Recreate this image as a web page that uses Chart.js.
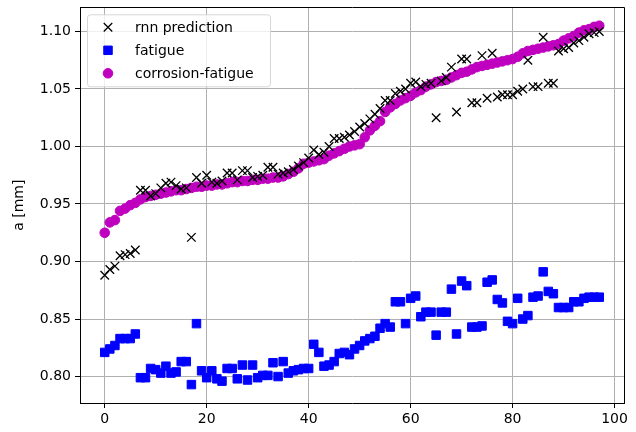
<!DOCTYPE html>
<html>
<head>
<meta charset="utf-8">
<script src="https://cdn.jsdelivr.net/npm/chart.js@4.4.0/dist/chart.umd.min.js"></script>
<style>
  html, body { margin: 0; padding: 0; background: #fff; }
  #wrap { width: 636px; height: 432px; }
</style>
</head>
<body>
<div id="wrap"><canvas id="crackChart" width="636" height="432"></canvas></div>
<script>
// crack length per sample index
const rnnPrediction = [
  0.888, 0.893, 0.896, 0.905, 0.906, 0.907, 0.910, 0.962, 0.962, 0.957,
  0.959, 0.964, 0.968, 0.969, 0.966, 0.963, 0.964, 0.921, 0.973, 0.968,
  0.975, 0.969, 0.968, 0.970, 0.977, 0.977, 0.971, 0.979, 0.979, 0.973,
  0.974, 0.975, 0.982, 0.982, 0.976, 0.977, 0.978, 0.980, 0.983, 0.986,
  0.990, 0.997, 0.993, 0.995, 1.000, 1.007, 1.007, 1.008, 1.010, 1.013,
  1.017, 1.020, 1.024, 1.028, 1.033, 1.040, 1.040, 1.046, 1.048, 1.050,
  1.055, 1.056, 1.052, 1.054, 1.055, 1.025, 1.057, 1.060, 1.069, 1.030,
  1.076, 1.076, 1.038, 1.038, 1.079, 1.042, 1.081, 1.043, 1.045, 1.045,
  1.045, 1.048, 1.050, 1.075, 1.052, 1.052, 1.095, 1.055, 1.055, 1.083,
  1.085, 1.086, 1.090, 1.092, 1.095, 1.098, 1.099, 1.100
];

const fatigue = [
  0.821, 0.824, 0.827, 0.833, 0.833, 0.833, 0.837, 0.799, 0.799, 0.807,
  0.806, 0.803, 0.809, 0.803, 0.804, 0.813, 0.813, 0.793, 0.846, 0.805,
  0.799, 0.805, 0.798, 0.796, 0.807, 0.807, 0.798, 0.810, 0.797, 0.810,
  0.799, 0.801, 0.801, 0.812, 0.800, 0.813, 0.803, 0.805, 0.806, 0.807,
  0.807, 0.828, 0.821, 0.809, 0.810, 0.813, 0.820, 0.821, 0.819, 0.824,
  0.827, 0.831, 0.833, 0.835, 0.842, 0.846, 0.843, 0.865, 0.865, 0.846,
  0.868, 0.870, 0.852, 0.856, 0.856, 0.836, 0.856, 0.856, 0.876, 0.837,
  0.883, 0.879, 0.843, 0.843, 0.844, 0.882, 0.884, 0.867, 0.864, 0.848,
  0.846, 0.868, 0.850, 0.853, 0.869, 0.870, 0.891, 0.874, 0.872, 0.860,
  0.860, 0.860, 0.865, 0.865, 0.868, 0.869, 0.869, 0.869
];

const corrosionFatigue = [
  0.925, 0.934, 0.936, 0.944, 0.946, 0.949, 0.951, 0.954, 0.956, 0.957,
  0.958, 0.959, 0.960, 0.961, 0.962, 0.962, 0.963, 0.964, 0.965, 0.965,
  0.966, 0.966, 0.967, 0.967, 0.968, 0.969, 0.969, 0.970, 0.970, 0.971,
  0.971, 0.972, 0.972, 0.973, 0.973, 0.974, 0.976, 0.978, 0.981, 0.985,
  0.986, 0.987, 0.988, 0.989, 0.992, 0.994, 0.996, 0.998, 1.000, 1.001,
  1.002, 1.008, 1.014, 1.018, 1.022, 1.030, 1.034, 1.037, 1.040, 1.042,
  1.044, 1.047, 1.049, 1.052, 1.054, 1.056, 1.057, 1.058, 1.060, 1.062,
  1.064, 1.065, 1.067, 1.069, 1.070, 1.071, 1.072, 1.073, 1.074, 1.075,
  1.076, 1.078, 1.081, 1.083, 1.084, 1.085, 1.086, 1.087, 1.088, 1.089,
  1.092, 1.094, 1.096, 1.099, 1.101, 1.102, 1.104, 1.105
];

const xTicks = [0, 20, 40, 60, 80, 100];
const yTicks = [0.80, 0.85, 0.90, 0.95, 1.00, 1.05, 1.10];

const FONT = "'DejaVu Sans', sans-serif";
const toPoints = (arr) => arr.map((v, i) => ({ x: i, y: v }));

// top + right spines, the scales only give us left/bottom
const framePlugin = {
  id: "frame",
  afterDraw(chart) {
    const { ctx, chartArea: a } = chart;
    ctx.save();
    ctx.strokeStyle = "#000";
    ctx.lineWidth = 1;
    ctx.beginPath();
    ctx.moveTo(Math.round(a.left) + 0.5, Math.round(a.top) + 0.5);
    ctx.lineTo(Math.round(a.right) + 0.5, Math.round(a.top) + 0.5);
    ctx.lineTo(Math.round(a.right) + 0.5, Math.round(a.bottom) + 0.5);
    ctx.stroke();
    ctx.restore();
  }
};

// legend box sitting inside the plot, upper left
const innerLegend = {
  id: "innerLegend",
  afterDatasetsDraw(chart) {
    const { ctx, chartArea: a } = chart;
    const x0 = a.left + 7.5, y0 = a.top + 7.5, w = 183, h = 72;
    ctx.save();
    ctx.beginPath();
    ctx.roundRect(x0, y0, w, h, 3);
    ctx.fillStyle = "rgba(255,255,255,0.8)";
    ctx.fill();
    ctx.strokeStyle = "#d6d6d6";
    ctx.lineWidth = 1;
    ctx.stroke();

    chart.data.datasets.forEach((ds, i) => {
      const cy = y0 + 12.5 + i * 23;
      ctx.fillStyle = ds.backgroundColor;
      ctx.strokeStyle = ds.borderColor;
      ctx.lineWidth = ds.borderWidth;
      Chart.helpers.drawPoint(ctx, {
        pointStyle: ds.pointStyle,
        radius: ds.pointRadius,
        rotation: 0,
        borderWidth: ds.borderWidth
      }, a.left + 28, cy);
      ctx.fillStyle = "#000";
      ctx.font = "14px " + FONT;
      ctx.textBaseline = "middle";
      ctx.textAlign = "left";
      ctx.fillText(ds.label, a.left + 55, cy + 1);
    });
    ctx.restore();
  }
};

const gridStyle = {
  color: "#b0b0b0",
  lineWidth: 1,
  tickColor: "#000",
  tickLength: 5
};

new Chart(document.getElementById("crackChart"), {
  type: "scatter",
  data: {
    datasets: [
      {
        label: "rnn prediction",
        data: toPoints(rnnPrediction),
        pointStyle: "crossRot",
        pointRadius: 6,
        borderColor: "#000",
        backgroundColor: "#000",
        borderWidth: 1.3
      },
      {
        label: "fatigue",
        data: toPoints(fatigue),
        pointStyle: "rect",
        pointRadius: 6,
        borderColor: "#0000ff",
        backgroundColor: "#0000ff",
        borderWidth: 1
      },
      {
        label: "corrosion-fatigue",
        data: toPoints(corrosionFatigue),
        pointStyle: "circle",
        pointRadius: 4.8,
        borderColor: "#bf00bf",
        backgroundColor: "#bf00bf",
        borderWidth: 1
      }
    ]
  },
  options: {
    responsive: false,
    devicePixelRatio: 1,
    animation: false,
    layout: { padding: { top: 5, right: 12, left: 0, bottom: 0 } },
    plugins: {
      legend: { display: false },
      tooltip: { enabled: false }
    },
    scales: {
      x: {
        type: "linear",
        min: -4.85,
        max: 101.85,
        afterBuildTicks: (s) => { s.ticks = xTicks.map((v) => ({ value: v })); },
        afterFit: (s) => {
          s.height = 29;
          s.paddingLeft = 0;
          s.paddingRight = 0;
        },
        ticks: {
          color: "#000",
          font: { family: FONT, size: 14 },
          padding: 3,
          maxRotation: 0,
          callback: (v) => String(v)
        },
        grid: gridStyle,
        border: { color: "#000", width: 1 }
      },
      y: {
        type: "linear",
        min: 0.777,
        max: 1.121,
        afterBuildTicks: (s) => { s.ticks = yTicks.map((v) => ({ value: v })); },
        afterFit: (s) => {
          s.width = 80;
          s.paddingTop = 0;
          s.paddingBottom = 0;
        },
        ticks: {
          color: "#000",
          font: { family: FONT, size: 14 },
          padding: 4,
          callback: (v) => v.toFixed(2)
        },
        title: {
          display: true,
          text: "a [mm]",
          color: "#000",
          font: { family: FONT, size: 14 },
          padding: { top: 11, bottom: 0 }
        },
        grid: gridStyle,
        border: { color: "#000", width: 1 }
      }
    }
  },
  plugins: [framePlugin, innerLegend]
});
</script>
</body>
</html>
